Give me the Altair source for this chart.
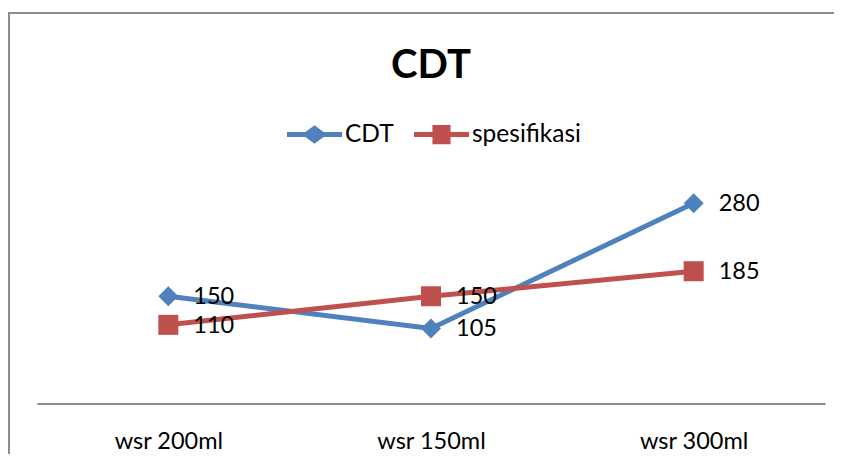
import altair as alt
import pandas as pd

categories = ["wsr 200ml", "wsr 150ml", "wsr 300ml"]
series_names = ["CDT", "spesifikasi"]
cdt_values = [150, 105, 280]
spec_values = [110, 150, 185]
colors = ["#4F81BD", "#C0504D"]
shapes = ["diamond", "square"]

rows = []
for c, v in zip(categories, cdt_values):
    rows.append({"cat": c, "series": "CDT", "value": v})
for c, v in zip(categories, spec_values):
    rows.append({"cat": c, "series": "spesifikasi", "value": v})
df = pd.DataFrame(rows)

FONT = "Lato"
W, H = 788, 214.5

x_enc = alt.X("cat:N", sort=categories, title=None,
              axis=alt.Axis(domainColor="#8C8C8C", domainWidth=2, ticks=False,
                            labelFont=FONT, labelFontSize=23.5, labelColor="#000000",
                            labelPadding=26, labelAngle=0, grid=False))
y_enc = alt.Y("value:Q", scale=alt.Scale(domain=[0, 300], nice=False, zero=True), axis=None)
color_scale = alt.Scale(domain=series_names, range=colors)

base = alt.Chart(df)

layers = []
for name, col, shp in zip(series_names, colors, shapes):
    sub = base.transform_filter(alt.datum.series == name)
    layers.append(sub.mark_line(strokeWidth=5, color=col).encode(x=x_enc, y=y_enc))
for name, col, shp in zip(series_names, colors, shapes):
    sub = base.transform_filter(alt.datum.series == name)
    layers.append(sub.mark_point(shape=shp, filled=True, size=400, opacity=1, color=col)
                  .encode(x=x_enc, y=y_enc))

labels = base.mark_text(align="left", baseline="middle", dx=25, dy=1,
                        font=FONT, fontSize=23.5, color="#000000").encode(
    x=x_enc, y=y_enc, text="value:Q")

diamond_path = ("M-1,-0.09 L-0.33,-0.09 L0,-0.34 L0.33,-0.09 L1,-0.09 L1,0.09 "
                "L0.33,0.09 L0,0.34 L-0.33,0.09 L-1,0.09 Z")
square_path = ("M-1,-0.09 L-0.33,-0.09 L-0.33,-0.35 L0.33,-0.35 L0.33,-0.09 L1,-0.09 L1,0.09 "
               "L0.33,0.09 L0.33,0.35 L-0.33,0.35 L-0.33,0.09 L-1,0.09 Z")

leg = alt.Legend(title=None, orient="none", direction="horizontal",
                 legendX=250, legendY=-82, padding=0,
                 symbolSize=3025, symbolOpacity=1, symbolStrokeWidth=0,
                 labelFont=FONT, labelFontSize=24.5, labelColor="#000000",
                 labelOffset=3, columnPadding=20)

legend_layer = base.mark_point(filled=True, opacity=0, size=3025).encode(
    x=x_enc, y=y_enc,
    color=alt.Color("series:N", scale=color_scale, sort=series_names, legend=leg),
    shape=alt.Shape("series:N", sort=series_names,
                    scale=alt.Scale(domain=series_names, range=[diamond_path, square_path]),
                    legend=leg),
)

one = pd.DataFrame({"k": [0]})
border_left = alt.Chart(one).mark_rule(color="#8C8C8C", strokeWidth=2).encode(
    x=alt.value(-28), y=alt.value(-176), y2=alt.value(H + 60))
border_top = alt.Chart(one).mark_rule(color="#8C8C8C", strokeWidth=2).encode(
    y=alt.value(-176), x=alt.value(-29), x2=alt.value(W + 20))

chart = alt.layer(border_left, border_top, *layers, labels, legend_layer).properties(
    width=W, height=H,
    title=alt.Title("CDT", font=FONT, fontSize=40, fontWeight="bold", color="#000000",
                    anchor="middle", offset=0, dy=74),
    autosize=alt.AutoSizeParams(type="none"),
    padding={"left": 29, "top": 181, "right": 9, "bottom": 50},
    background="#FFFFFF",
).configure_view(strokeWidth=0)

chart.save("out.html", embed_options={"renderer": "svg", "actions": False})
